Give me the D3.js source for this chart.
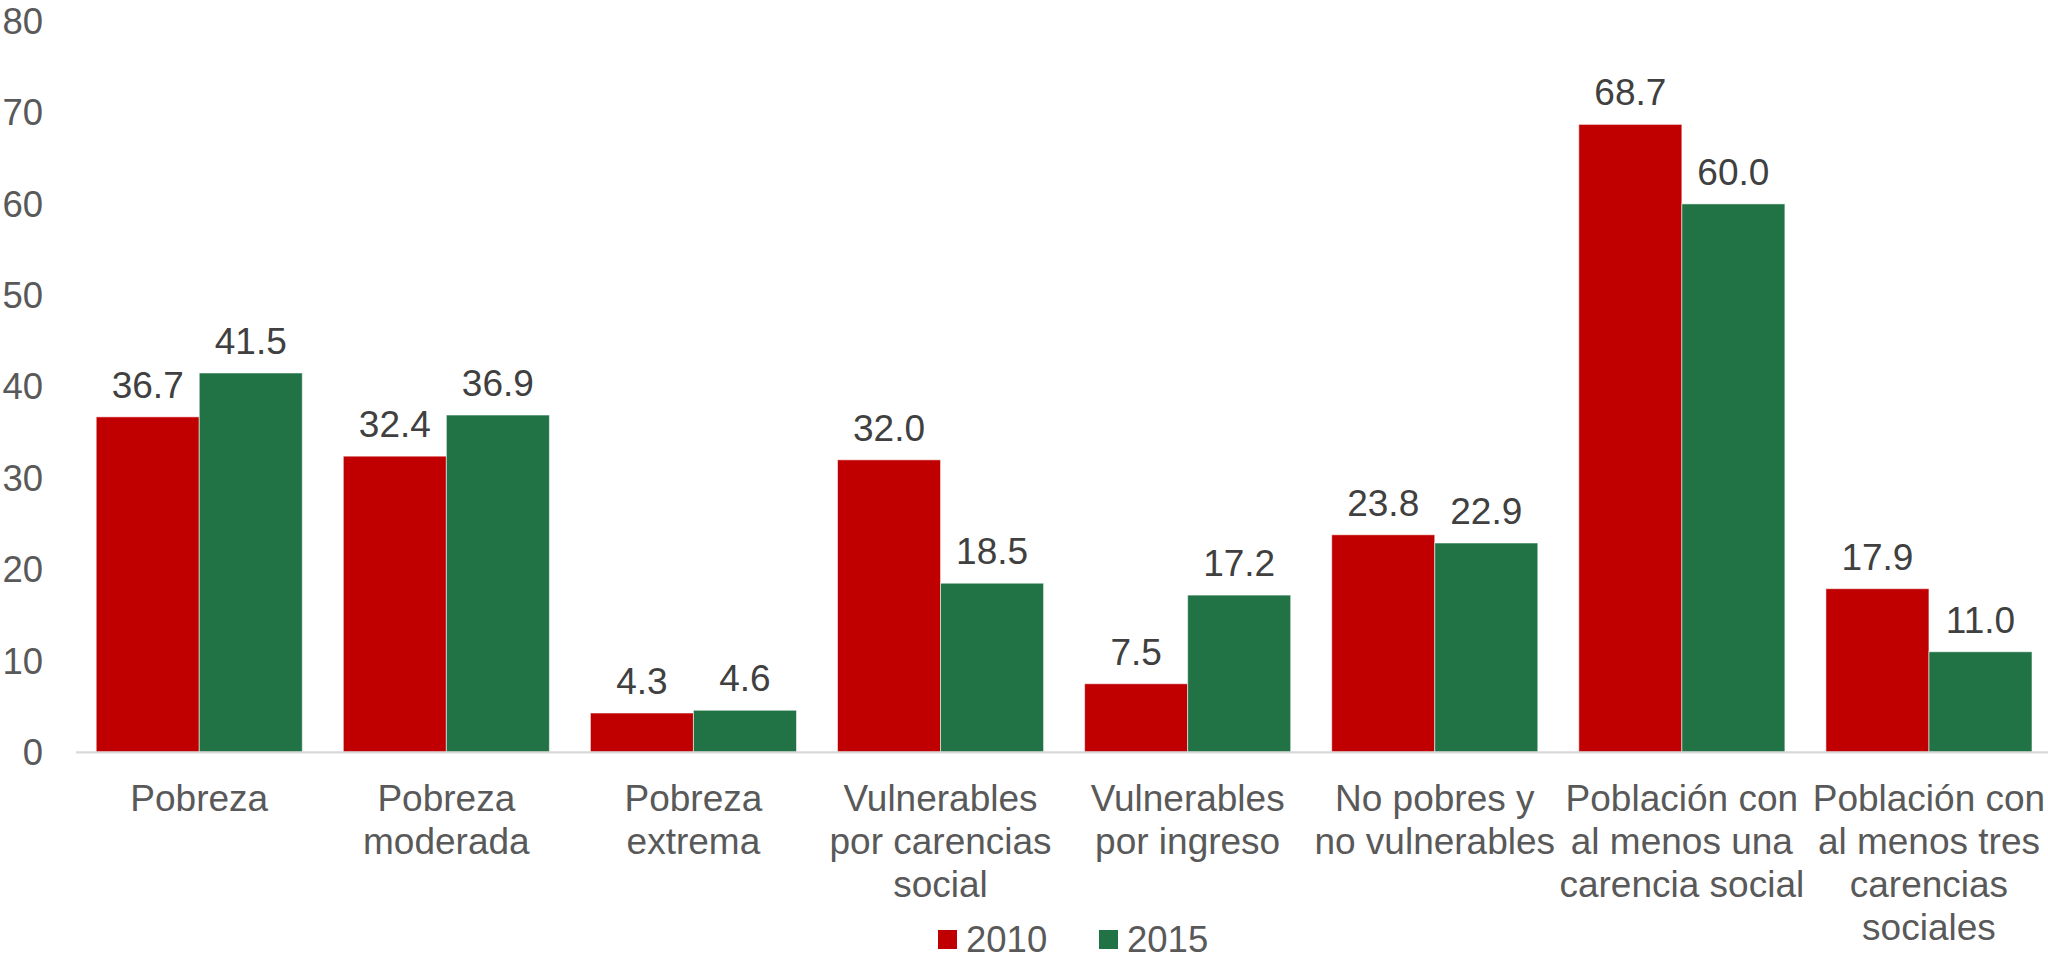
<!DOCTYPE html>
<html>
<head>
<meta charset="utf-8">
<script src="https://cdn.jsdelivr.net/npm/d3@7"></script>
<style>
  html, body { margin: 0; padding: 0; background: #ffffff; }
  svg { display: block; font-family: Arial, "Liberation Sans", sans-serif; }
</style>
</head>
<body>
<svg id="chart" width="2048" height="955"></svg>
<script>
const categories = [
  ["Pobreza"],
  ["Pobreza", "moderada"],
  ["Pobreza", "extrema"],
  ["Vulnerables", "por carencias", "social"],
  ["Vulnerables", "por ingreso"],
  ["No pobres y", "no vulnerables"],
  ["Población con", "al menos una", "carencia social"],
  ["Población con", "al menos tres", "carencias", "sociales"]
];
const seriesNames = ["2010", "2015"];
const values2010 = [36.7, 32.4, 4.3, 32.0, 7.5, 23.8, 68.7, 17.9];
const values2015 = [41.5, 36.9, 4.6, 18.5, 17.2, 22.9, 60.0, 11.0];
const yTicks = [0, 10, 20, 30, 40, 50, 60, 70, 80];
const colors = ["#C00000", "#217346"];

const svg = d3.select("#chart");
const catIdx = categories.map((d, i) => i);
const series = [values2010, values2015];

const x0 = d3.scaleBand().domain(catIdx).range([75.7, 2052.5]).paddingInner(0.166).paddingOuter(0.083);
const x1 = d3.scaleBand().domain([0, 1]).range([0, x0.bandwidth()]).padding(0);
const y = d3.scaleLinear().domain([0, 80]).range([752.3, 21.1]);

// y tick labels
svg.append("g").selectAll("text").data(yTicks).join("text")
  .attr("x", 43).attr("y", d => y(d)).attr("dy", "0.35em")
  .attr("text-anchor", "end").attr("font-size", 36.5).attr("fill", "#595959")
  .text(d => d);

// bars
const groups = svg.append("g").selectAll("g").data(catIdx).join("g")
  .attr("transform", i => `translate(${x0(i)},0)`);
groups.selectAll("rect").data(i => series.map((s, k) => ({k, v: s[i]}))).join("rect")
  .attr("x", d => x1(d.k)).attr("width", x1.bandwidth())
  .attr("y", d => y(d.v)).attr("height", d => y(0) - y(d.v))
  .attr("fill", d => colors[d.k])
  .attr("stroke", "#ffffff").attr("stroke-width", 1).attr("stroke-opacity", 0.55);
groups.selectAll("text").data(i => series.map((s, k) => ({k, v: s[i]}))).join("text")
  .attr("x", d => x1(d.k) + x1.bandwidth() / 2).attr("y", d => y(d.v) - 19)
  .attr("text-anchor", "middle").attr("font-size", 37).attr("fill", "#404040")
  .text(d => d.v.toFixed(1));

// axis line
svg.append("line").attr("x1", 76).attr("x2", 2048).attr("y1", y(0)).attr("y2", y(0))
  .attr("stroke", "#d9d9d9").attr("stroke-width", 2.25);

// category labels
const catG = svg.append("g").selectAll("text").data(catIdx).join("text")
  .attr("text-anchor", "middle").attr("font-size", 37).attr("fill", "#595959");
catG.selectAll("tspan").data(i => categories[i].map(t => ({t, i}))).join("tspan")
  .attr("x", d => x0(d.i) + x0.bandwidth() / 2)
  .attr("y", (d, j) => 811 + j * 43)
  .text(d => d.t);

// legend
const legendX = [938, 1099];
const leg = svg.append("g").selectAll("g").data(seriesNames).join("g");
leg.append("rect").attr("x", (d, i) => legendX[i]).attr("y", 930).attr("width", 19).attr("height", 19)
  .attr("fill", (d, i) => colors[i]);
leg.append("text").attr("x", (d, i) => legendX[i] + 28).attr("y", 952)
  .attr("font-size", 36.5).attr("fill", "#595959").text(d => d);
</script>
</body>
</html>
